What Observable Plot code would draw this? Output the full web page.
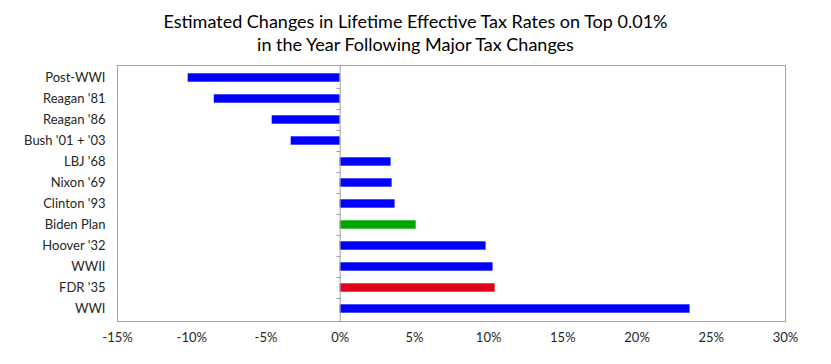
<!DOCTYPE html>
<html>
<head>
<meta charset="utf-8">
<script src="https://cdn.jsdelivr.net/npm/d3@7"></script>
<script src="https://cdn.jsdelivr.net/npm/@observablehq/plot@0.6"></script>
<style>
  html, body { margin: 0; padding: 0; background: #fff; }
  #title { width: 831px; height: 58px; box-sizing: border-box; padding-top: 10px;
           text-align: center; font-family: Lato, sans-serif; font-size: 18px;
           line-height: 23px; color: #000; }
</style>
</head>
<body>
<div id="title">Estimated Changes in Lifetime Effective Tax Rates on Top 0.01%<br>in the Year Following Major Tax Changes</div>
<div id="chart"></div>
<script>
const categories = ["Post-WWI", "Reagan '81", "Reagan '86", "Bush '01 + '03", "LBJ '68", "Nixon '69",
  "Clinton '93", "Biden Plan", "Hoover '32", "WWII", "FDR '35", "WWI"];
const values = [-0.1024, -0.0848, -0.0458, -0.033, 0.0343, 0.035, 0.037, 0.0512, 0.0983, 0.103, 0.1044, 0.2357];
const groups = ["Historical", "Historical", "Historical", "Historical", "Historical", "Historical",
  "Historical", "Biden", "Historical", "Historical", "FDR", "Historical"];
const xTicks = [-0.15, -0.10, -0.05, 0, 0.05, 0.10, 0.15, 0.20, 0.25, 0.30];

const data = categories.map((name, i) => ({name, value: values[i], group: groups[i]}));

const W = 831, H = 306, MT = 7, MB = 43;

function zeroTicks(index, scales) {
  const g = d3.create("svg:g").attr("stroke", "#a0a0a0").attr("stroke-width", 1);
  const x0 = Math.round(scales.x(0)) + 0.5;
  categories.slice(1).forEach(c => {
    const y = Math.round(scales.y(c)) + 0.5;
    g.append("line").attr("x1", x0 - 4).attr("x2", x0).attr("y1", y).attr("y2", y);
  });
  return g.node();
}

const pct = d => `${Math.round(d * 100)}%`;

const chart = Plot.plot({
  width: W,
  height: H,
  marginTop: MT,
  marginBottom: MB,
  marginLeft: 117,
  marginRight: 46,
  style: {fontFamily: "Lato, sans-serif", fontSize: "13px", color: "#262626", background: "#fff"},
  x: {domain: [-0.15, 0.30], ticks: xTicks, tickFormat: pct, label: null},
  y: {domain: categories, padding: 0, label: null},
  color: {domain: ["Historical", "Biden", "FDR"], range: ["#0000ff", "#00a500", "#e0001a"]},
  marks: [
    Plot.barX(data, {x: "value", y: "name", fill: "group", insetTop: 6.3, insetBottom: 6.3}),
    Plot.frame({stroke: "#a0a0a0"}),
    Plot.ruleX([0], {stroke: "#a0a0a0"}),
    zeroTicks,
    Plot.axisX({ticks: xTicks, tickSize: 0, tickPadding: 11, tickFormat: pct, label: null, fontSize: 13}),
    Plot.axisY({tickSize: 0, tickPadding: 12, label: null, fontSize: 13})
  ]
});
document.getElementById("chart").appendChild(chart);
</script>
</body>
</html>
